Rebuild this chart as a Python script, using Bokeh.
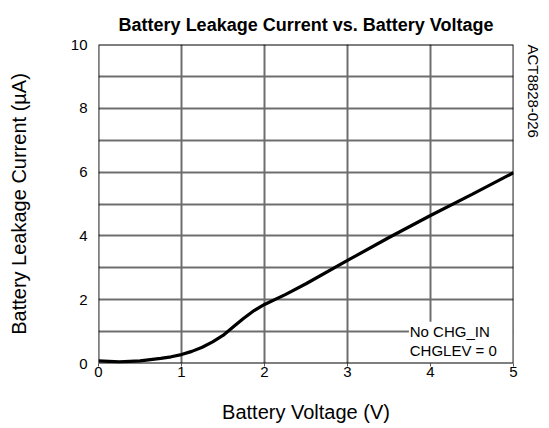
from bokeh.plotting import figure
from bokeh.models import FixedTicker, Label, BoxAnnotation, Range1d, Title, LinearAxis
from bokeh.embed import file_html
from bokeh.resources import INLINE

# Data
voltage = [0, 0.25, 0.5, 0.75, 0.875, 1.0, 1.125, 1.25, 1.375, 1.5, 1.625, 1.75, 1.875,
           2.0, 2.25, 2.5, 3.0, 3.5, 4.0, 4.5, 5.0]
leakage = [0.08, 0.05, 0.08, 0.16, 0.21, 0.28, 0.38, 0.51, 0.68, 0.88, 1.15, 1.42, 1.66,
           1.85, 2.16, 2.5, 3.23, 3.95, 4.64, 5.3, 5.98]
x_ticks = [0, 1, 2, 3, 4, 5]
y_ticks = [0, 2, 4, 6, 8, 10]
y_grid = [0, 1, 2, 3, 4, 5, 6, 7, 8, 9, 10]

FONT = "Liberation Sans"

p = figure(width=549, height=425, output_backend="svg", toolbar_location=None,
           x_range=Range1d(0, 5), y_range=Range1d(0, 10),
           min_border_left=98, min_border_right=36, min_border_top=44, min_border_bottom=61)

p.title = Title(text="Battery Leakage Current vs. Battery Voltage", align="center",
                text_font=FONT, text_font_size="18px", text_font_style="bold",
                text_color="black", standoff=20)

p.outline_line_color = None

p.xaxis.ticker = FixedTicker(ticks=x_ticks)
p.yaxis.ticker = FixedTicker(ticks=y_ticks)
p.xgrid.ticker = FixedTicker(ticks=x_ticks)
p.ygrid.ticker = FixedTicker(ticks=y_grid)
for g in (p.xgrid, p.ygrid):
    g.grid_line_color = "#6e6e6e"
    g.grid_line_width = 2
    g.grid_line_alpha = 1.0

for ax in (p.xaxis, p.yaxis):
    ax.axis_line_color = None
    ax.major_tick_line_color = "#555555"
    ax.minor_tick_line_color = None
    ax.major_tick_in = 0
    ax.major_label_text_font = FONT
    ax.major_label_text_font_size = "15px"
    ax.major_label_text_color = "black"
    ax.axis_label_text_font = FONT
    ax.axis_label_text_font_size = "20px"
    ax.axis_label_text_font_style = "normal"
    ax.axis_label_text_color = "black"

p.xaxis.major_tick_out = 3
p.xaxis.major_label_standoff = 0
p.xaxis.axis_label = "Battery Voltage (V)"
p.xaxis.axis_label_standoff = 21

p.yaxis.major_tick_out = 0
p.yaxis.major_label_standoff = 11
p.yaxis.axis_label = "Battery Leakage Current (µA)"
p.yaxis.axis_label_standoff = 38

p.line(voltage, leakage, line_color="black", line_width=3.2)

box = BoxAnnotation(left=3.74, right=5, bottom=0, top=1.31,
                    fill_color="white", fill_alpha=1.0, line_alpha=0, level="underlay")
p.add_layout(box)

frame_box = BoxAnnotation(fill_alpha=0, line_color="black", line_width=1.8, line_alpha=1.0)
p.add_layout(frame_box)

p.add_layout(Label(x=3.75, y=1.0, text="No CHG_IN", text_font=FONT, text_font_size="15px",
                   text_baseline="middle", text_align="left", text_color="black"))
p.add_layout(Label(x=3.75, y=0.42, text="CHGLEV = 0", text_font=FONT, text_font_size="15px",
                   text_baseline="middle", text_align="left", text_color="black"))

# invisible spacer on the right, then the figure code reading downward from the top
spacer = LinearAxis(ticker=FixedTicker(ticks=[10]), major_label_overrides={10: ""},
                    axis_line_color=None, major_tick_line_alpha=0, minor_tick_line_color=None,
                    major_tick_out=11, major_tick_in=0, major_label_standoff=0)
p.add_layout(spacer, "right")
p.add_layout(Title(text="ACT8828-026", align="left", text_font=FONT,
                   text_font_size="15px", text_font_style="normal", text_color="black",
                   standoff=0), "right")

open("out.html", "w").write(file_html(p, INLINE))
